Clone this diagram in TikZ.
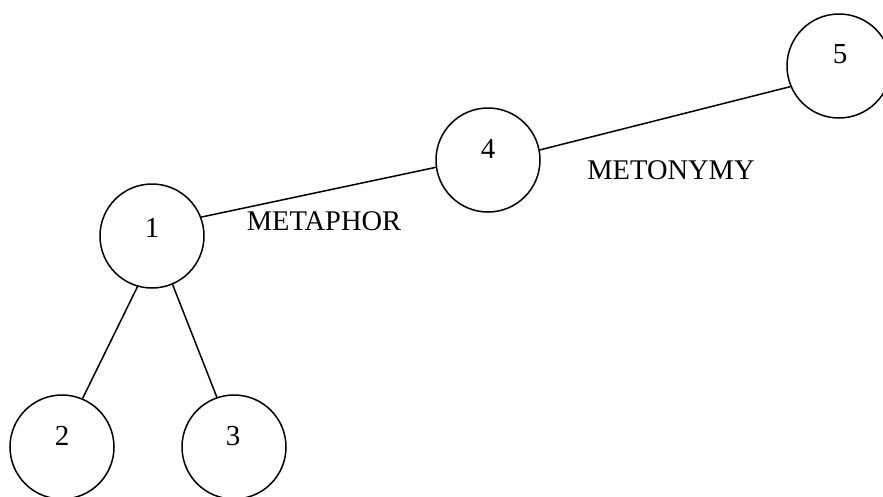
\documentclass[tikz,border=0pt]{standalone}
\usepackage{fontspec}
\setmainfont{Liberation Serif}
\begin{document}
\begin{tikzpicture}[x=1pt,y=-1pt,
  state/.style={circle,draw,line width=1.5pt,minimum size=104pt,inner sep=0pt},
  num/.style={anchor=base,inner sep=0pt,font=\fontsize{29}{34}\selectfont},
  tag/.style={anchor=base,inner sep=0pt,font=\fontsize{28.5}{34}\selectfont},
  link/.style={line width=1.5pt}]
\useasboundingbox (0,0) rectangle (883,496);

% circles
\node[state] (n1) at (152,236) {};
\node[state] (n2) at (62,447) {};
\node[state] (n3) at (234,447) {};
\node[state] (n4) at (488,160) {};
\node[state] (n5) at (839,66) {};

% numbers inside the circles
\node[num] (t1) at (152,237) {1};
\node[num] (t2) at (62,445) {2};
\node[num] (t3) at (233,445) {3};
\node[num] (t4) at (488,158) {4};
\node[num] (t5) at (840,63) {5};

% connectors
\draw[link] (n1.21) -- (n4.188);
\draw[link] (n4.11) -- (n5.203);
\draw[link] (n1.254) -- (n2.67);
\draw[link] (n1.293) -- (n3.109);

% relation names
\node[tag] (lmeta) at (324,230) {METAPHOR};
\node[tag] (lmeto) at (671,179) {METONYMY};
\end{tikzpicture}
\end{document}
